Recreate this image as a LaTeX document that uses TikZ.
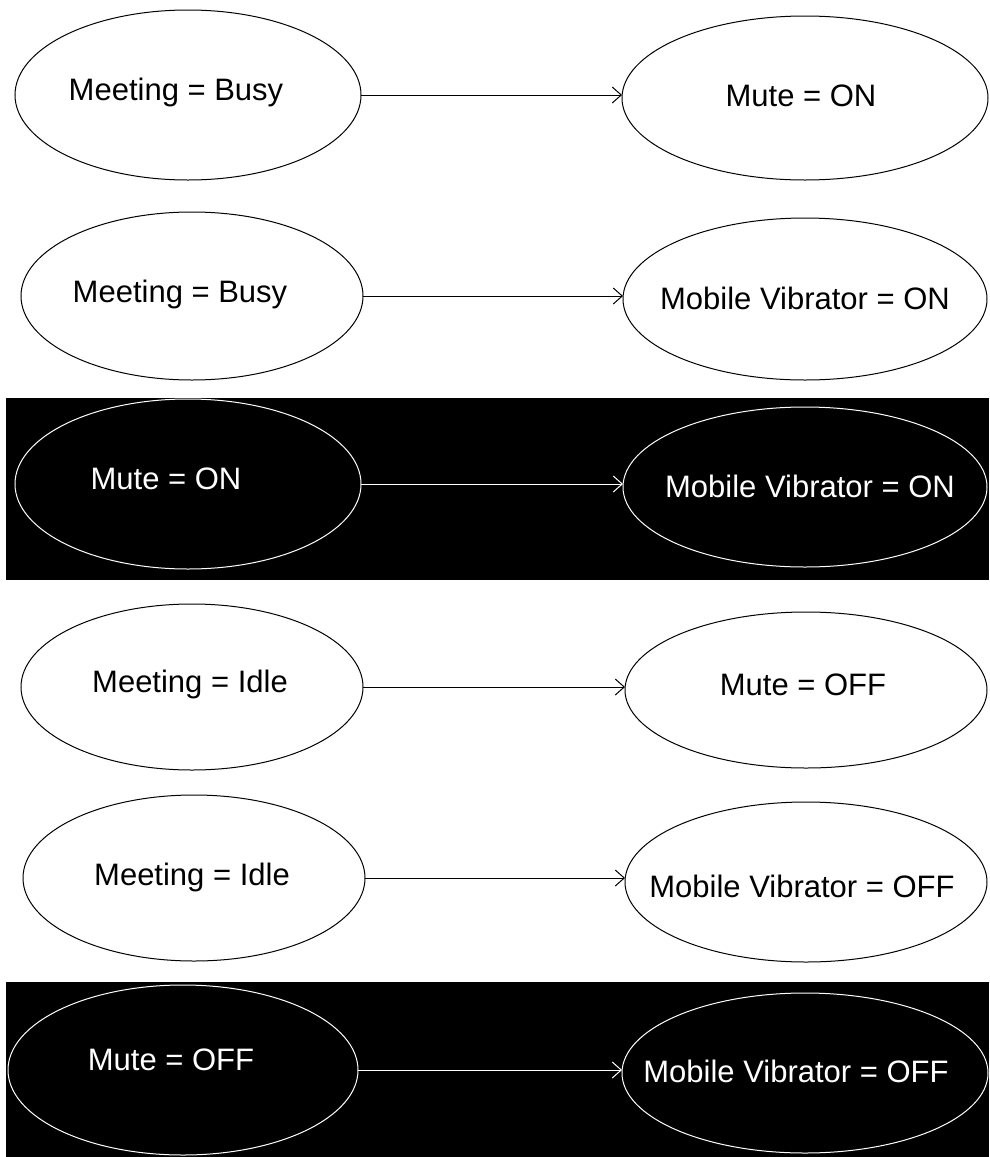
\documentclass[tikz,border=0pt]{standalone}
\usepackage{fontspec}
\setmainfont{Liberation Sans}
\usetikzlibrary{shapes.geometric,arrows.meta}
\begin{document}
\begin{tikzpicture}[x=1pt,y=-1pt,
  ell/.style={draw,ellipse,line width=1pt,inner sep=0pt,outer sep=0pt},
  lbl/.style={anchor=base,inner sep=0pt,font=\fontsize{31}{36}\selectfont},
  arr/.style={line width=1pt,-{Straight Barb[length=9pt,width=16pt,line width=1pt]}},
  dark/.style={draw=white,text=white}]
\useasboundingbox (0,0) rectangle (989,1157);
\fill[white] (0,0) rectangle (989,1157);
\fill[black] (6,398) rectangle (989,580);
\fill[black] (6,982) rectangle (989,1157);
% row 1
\node[ell,minimum width=346pt,minimum height=170pt] (l1) at (188,95) {};
\node[ell,minimum width=366pt,minimum height=164pt] (r1) at (805,98) {};
\node[lbl] (tl1) at (176,100) {Meeting = Busy};
\node[lbl] (tr1) at (801,106) {Mute = ON};
\draw[arr] (l1.east) -- (l1.east -| r1.west);
% row 2
\node[ell,minimum width=342pt,minimum height=168pt] (l2) at (192,296) {};
\node[ell,minimum width=364pt,minimum height=162pt] (r2) at (805,299) {};
\node[lbl] (tl2) at (180,302) {Meeting = Busy};
\node[lbl] (tr2) at (805,309) {Mobile Vibrator = ON};
\draw[arr] (l2.east) -- (l2.east -| r2.west);
% row 3 (dark)
\node[ell,dark,minimum width=346pt,minimum height=170pt] (l3) at (188,484) {};
\node[ell,dark,minimum width=364pt,minimum height=160pt] (r3) at (805,487) {};
\node[lbl,text=white] (tl3) at (166,489) {Mute = ON};
\node[lbl,text=white] (tr3) at (810,497) {Mobile Vibrator = ON};
\draw[arr,white] (l3.east) -- (l3.east -| r3.west);
% row 4
\node[ell,minimum width=342pt,minimum height=166pt] (l4) at (192,687) {};
\node[ell,minimum width=362pt,minimum height=156pt] (r4) at (806,690) {};
\node[lbl] (tl4) at (190,692) {Meeting = Idle};
\node[lbl] (tr4) at (803,695) {Mute = OFF};
\draw[arr] (l4.east) -- (l4.east -| r4.west);
% row 5
\node[ell,minimum width=342pt,minimum height=166pt] (l5) at (194,878) {};
\node[ell,minimum width=362pt,minimum height=160pt] (r5) at (806,882) {};
\node[lbl] (tl5) at (192,885) {Meeting = Idle};
\node[lbl] (tr5) at (802,897) {Mobile Vibrator = OFF};
\draw[arr] (l5.east) -- (l5.east -| r5.west);
% row 6 (dark)
\node[ell,dark,minimum width=350pt,minimum height=170pt] (l6) at (183,1070) {};
\node[ell,dark,minimum width=366pt,minimum height=160pt] (r6) at (805,1073) {};
\node[lbl,text=white] (tl6) at (171,1070) {Mute = OFF};
\node[lbl,text=white] (tr6) at (796,1082) {Mobile Vibrator = OFF};
\draw[arr,white] (l6.east) -- (l6.east -| r6.west);
\end{tikzpicture}
\end{document}
